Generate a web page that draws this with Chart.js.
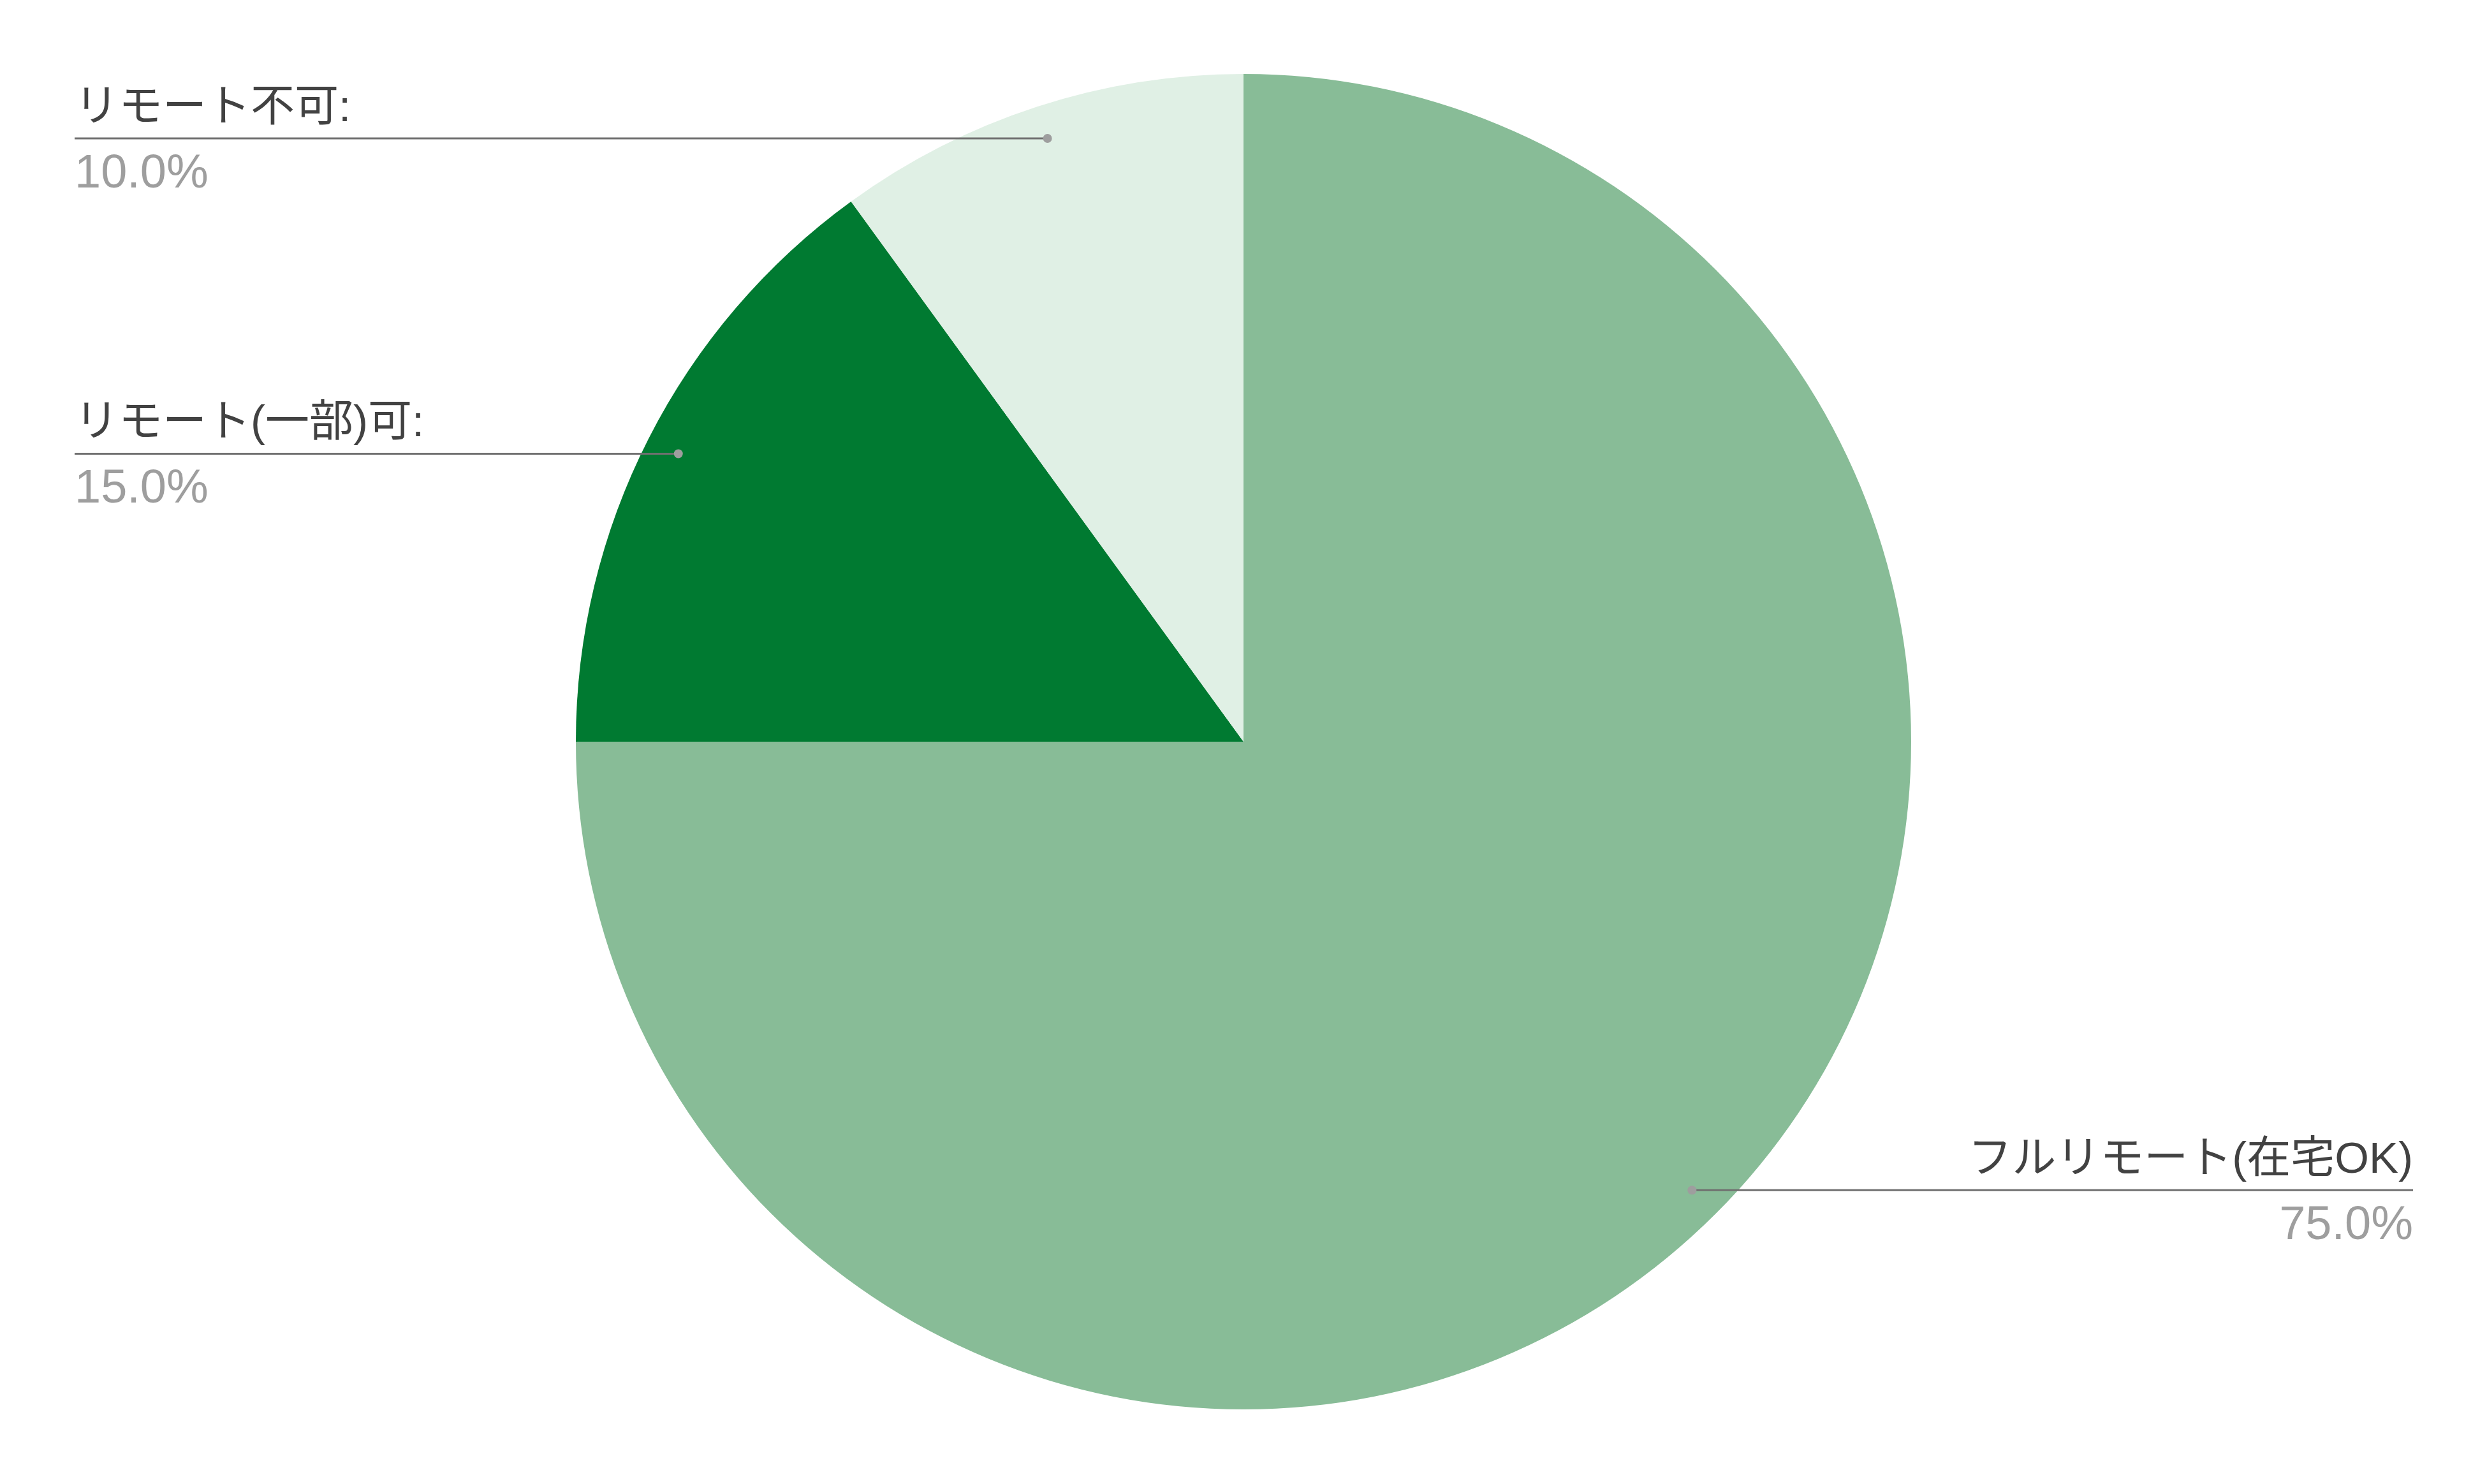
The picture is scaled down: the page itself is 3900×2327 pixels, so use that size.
<!DOCTYPE html>
<html>
<head>
<meta charset="utf-8">
<script src="https://cdn.jsdelivr.net/npm/chart.js@4"></script>
<style>
  html, body { margin: 0; padding: 0; background: #fff; }
  #wrap { width: 3900px; height: 2327px; }
</style>
</head>
<body>
<div id="wrap"><canvas id="pieChart"></canvas></div>
<script>
var labels = ['フルリモート(在宅OK)', 'リモート(一部)可', 'リモート不可'];
var values = [75, 15, 10];
var colors = ['#88bc97', '#007a31', '#e0f0e5'];

// leader lines + labels like the sheets export
var sideLabels = {
    id: 'sideLabels',
    afterDraw: function (chart) {
        var ctx = chart.ctx;
        var total = values.reduce(function (a, b) { return a + b; }, 0);
        var left = 117, right = 3784;
        chart.getDatasetMeta(0).data.forEach(function (arc, i) {
            var mid = (arc.startAngle + arc.endAngle) / 2;
            var r = arc.outerRadius * 0.95;
            var px = arc.x + Math.cos(mid) * r;
            var py = arc.y + Math.sin(mid) * r;
            var onRight = Math.cos(mid) > 0;
            var endX = onRight ? right : left;

            ctx.save();
            ctx.strokeStyle = '#707070';
            ctx.lineWidth = 3;
            ctx.beginPath();
            ctx.moveTo(px, py);
            ctx.lineTo(endX, py);
            ctx.stroke();

            ctx.fillStyle = '#9e9e9e';
            ctx.beginPath();
            ctx.arc(px, py, 7, 0, Math.PI * 2);
            ctx.fill();

            ctx.textAlign = onRight ? 'right' : 'left';
            ctx.textBaseline = 'alphabetic';
            ctx.fillStyle = '#424242';
            ctx.font = '69px "Liberation Sans", "Noto Sans CJK JP", sans-serif';
            ctx.fillText(labels[i] + (onRight ? '' : ':'), endX, py - 27);

            ctx.fillStyle = '#9e9e9e';
            ctx.font = '74px "Liberation Sans", "Noto Sans CJK JP", sans-serif';
            ctx.fillText((values[i] / total * 100).toFixed(1) + '%', endX, py + 77);
            ctx.restore();
        });
    }
};

var ctx = document.getElementById('pieChart').getContext('2d');
var chart = new Chart(ctx, {
    type: 'pie',
    data: {
        labels: labels,
        datasets: [{
            data: values,
            backgroundColor: colors,
            borderWidth: 0
        }]
    },
    options: {
        responsive: true,
        maintainAspectRatio: false,
        animation: false,
        layout: { padding: { top: 116, bottom: 117 } },
        plugins: {
            legend: { display: false },
            tooltip: { enabled: false }
        }
    },
    plugins: [sideLabels]
});
</script>
</body>
</html>
